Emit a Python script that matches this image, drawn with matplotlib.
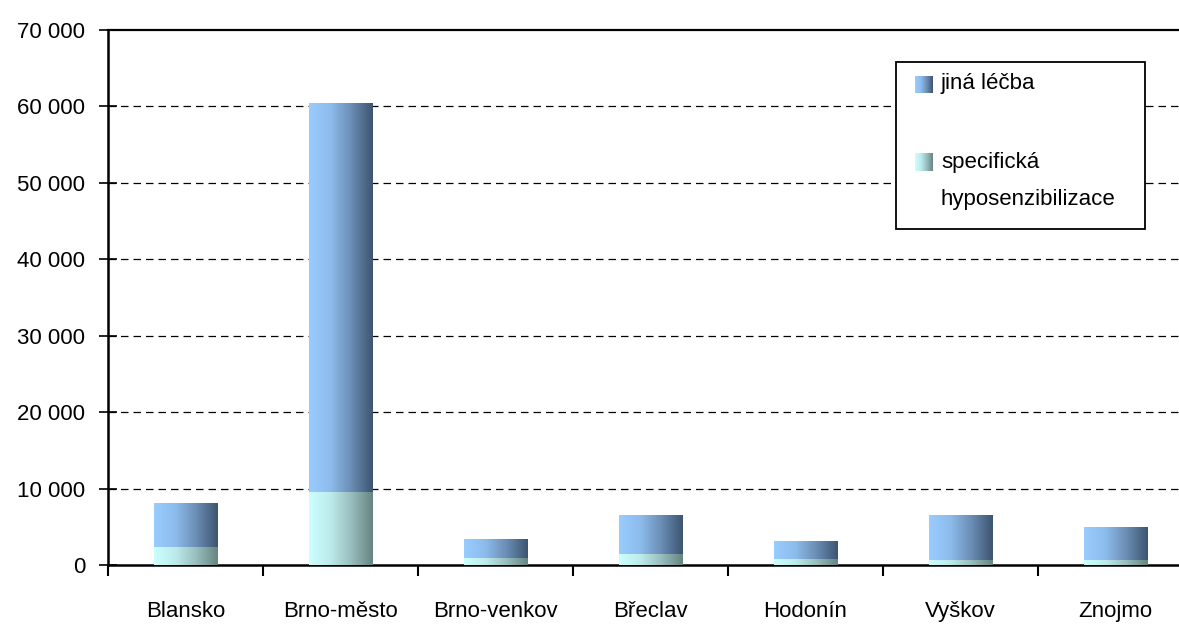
import numpy as np
import matplotlib
matplotlib.use("Agg")
import matplotlib.pyplot as plt
from matplotlib import font_manager
from matplotlib.colors import LinearSegmentedColormap
from matplotlib.patches import Rectangle

categories = ["Blansko", "Brno-město", "Brno-venkov", "Břeclav", "Hodonín", "Vyškov", "Znojmo"]
specific = [2300, 9600, 950, 1480, 750, 700, 700]
other = [5800, 50850, 2450, 5100, 2390, 5880, 4270]
series_labels = ["jiná léčba", "specifická", "hyposenzibilizace"]
yticks = [0, 10000, 20000, 30000, 40000, 50000, 60000, 70000]
ytick_labels = ["0", "10 000", "20 000", "30 000", "40 000", "50 000", "60 000", "70 000"]

avail = {f.name for f in font_manager.fontManager.ttflist}
fam = "Liberation Sans Narrow" if "Liberation Sans Narrow" in avail else "Liberation Sans"
plt.rcParams["font.family"] = [fam, "DejaVu Sans"]
FS = 16

cm_top = LinearSegmentedColormap.from_list("top", ["#99CCFF", "#8DBCEC", "#6A8DB4", "#3D5470"])
cm_bot = LinearSegmentedColormap.from_list("bot", ["#CCFFFF", "#BDEBEB", "#98BDBD", "#668480"])

fig = plt.figure(figsize=(11.79, 6.28), dpi=100)
ax = fig.add_axes([108/1179, 1-565/628, (1193-108)/1179, (565-30)/628])

x = np.arange(len(categories))
w = 0.41
grad = np.linspace(0, 1, 256).reshape(1, -1)

bars_b = ax.bar(x, specific, width=w, color="none", edgecolor="none")
bars_t = ax.bar(x, other, width=w, bottom=specific, color="none", edgecolor="none")
for bars, cm in ((bars_b, cm_bot), (bars_t, cm_top)):
    for b in bars:
        x0, y0 = b.get_x(), b.get_y()
        im = ax.imshow(grad, cmap=cm, aspect="auto",
                       extent=[x0, x0 + b.get_width(), y0, y0 + b.get_height()],
                       zorder=3, interpolation="bicubic")
        im.set_clip_path(b)

ax.set_xlim(-0.5, len(categories) - 0.5)
ax.set_ylim(0, 70000)
ax.set_yticks(yticks)
ax.set_yticklabels(ytick_labels, fontsize=FS)
ax.set_xticks(x)
ax.set_xticklabels(categories, fontsize=FS)
ax.set_xticks(np.arange(-0.5, len(categories), 1.0), minor=True)
ax.tick_params(axis="x", which="major", length=0, pad=26)
ax.tick_params(axis="x", which="minor", direction="out", length=8, width=1.5)
ax.tick_params(axis="y", direction="inout", length=13, width=1.2, pad=10)
for yv in yticks[1:-1]:
    ax.axhline(yv, color="black", lw=0.9, ls=(0, (6, 4)), zorder=1)

for s in ("left", "bottom"):
    ax.spines[s].set_linewidth(1.8)
ax.spines["top"].set_linewidth(1.6)
ax.spines["right"].set_visible(False)

# legend box (manual, to keep gradient swatches)
def fx(px):
    return px / 1179
def fy(py):
    return 1 - py / 628

fig.patches.append(Rectangle((fx(896), fy(229)), fx(1145) - fx(896), fy(62) - fy(229),
                             transform=fig.transFigure, facecolor="white",
                             edgecolor="black", lw=1.3, zorder=5))
for (py0, py1), cm in (((76, 93), cm_top), ((153, 171), cm_bot)):
    sax = fig.add_axes([fx(915), fy(py1), fx(933) - fx(915), fy(py0) - fy(py1)], zorder=6)
    sax.imshow(grad, cmap=cm, aspect="auto", interpolation="bicubic")
    sax.set_axis_off()

fig.text(fx(941), fy(84), series_labels[0], fontsize=FS, va="center", ha="left", zorder=7)
fig.text(fx(941), fy(162), series_labels[1], fontsize=FS, va="center", ha="left", zorder=7)
fig.text(fx(941), fy(200), series_labels[2], fontsize=FS, va="center", ha="left", zorder=7)

fig.savefig("out.png", dpi=100)
